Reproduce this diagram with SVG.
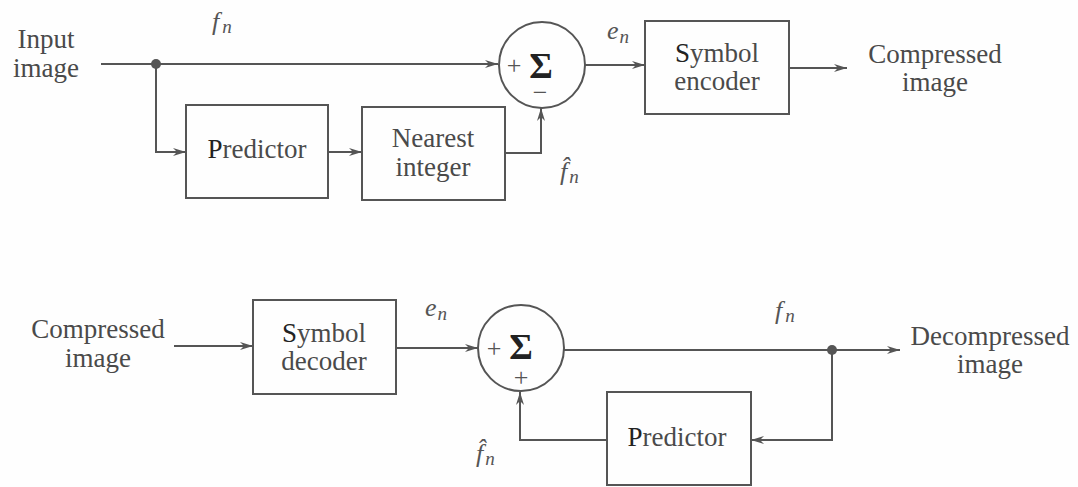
<svg xmlns="http://www.w3.org/2000/svg" width="1078" height="487" viewBox="0 0 1078 487">
<defs>
<marker id="arr" markerWidth="14" markerHeight="10" refX="13" refY="5" orient="auto" markerUnits="userSpaceOnUse">
<path d="M0,1 L13,5 L0,9 L4,5 z" fill="#555"/>
</marker>
<style>
.box{fill:none;stroke:#555;stroke-width:2}
.sum{fill:none;stroke:#555;stroke-width:2}
.wire{fill:none;stroke:#555;stroke-width:2;marker-end:url(#arr)}
.lbl{font-family:"Liberation Serif","Times New Roman",serif;font-size:27px;fill:#4a4a4a;text-anchor:middle}
.var{font-family:"Liberation Serif","Times New Roman",serif;font-size:26px;font-style:italic;fill:#555}
.sub{font-size:19px}
.sig{font-family:"Liberation Serif","Times New Roman",serif;font-size:36px;font-weight:bold;fill:#222;text-anchor:middle}
.sgn{font-family:"Liberation Serif","Times New Roman",serif;font-size:26px;fill:#555;text-anchor:middle}
.dk{fill:#222}
</style>
</defs>
<rect width="1078" height="487" fill="#fefefe"/>

<g id="connectors">
<path class="wire" d="M101,64 H498"/>
<path class="wire" d="M156,64 V152 H186"/>
<path class="wire" d="M328,152 H362"/>
<path class="wire" d="M505,153 H541 V108"/>
<path class="wire" d="M585,65 H645"/>
<path class="wire" d="M789,68 H847"/>
<circle cx="156" cy="64" r="5" fill="#555"/>

<path class="wire" d="M174,346 H253"/>
<path class="wire" d="M396,348 H478"/>
<path class="wire" d="M564,350 H900"/>
<path class="wire" d="M832,350 V440 H751"/>
<path class="wire" d="M607,440 H520 V392"/>
<circle cx="832" cy="350" r="5" fill="#555"/>
</g>

<g id="input-label">
<text class="lbl" x="46" y="48">Input</text>
<text class="lbl" x="46" y="77">image</text>
</g>
<g id="fn-top"><text class="var" x="212" y="30">f<tspan class="sub" dx="3" dy="3">n</tspan></text></g>

<g id="predictor-top">
<rect class="box" x="186" y="105" width="142" height="93"/>
<text class="lbl" x="257" y="158"><tspan class="dk">P</tspan>redictor</text>
</g>
<g id="nearest-integer">
<rect class="box" x="362" y="107" width="143" height="93"/>
<text class="lbl" x="433" y="147">Nearest</text>
<text class="lbl" x="433" y="176">integer</text>
</g>
<g id="sum-top">
<circle class="sum" cx="542" cy="65" r="43"/>
<text class="sgn" x="514" y="74">+</text>
<text class="sig" x="541" y="78">Σ</text>
<text class="sgn" x="540" y="101">−</text>
</g>
<g id="en-top"><text class="var" x="607" y="39">e<tspan class="sub" dx="1" dy="4">n</tspan></text></g>
<g id="fhat-top">
<text class="var" x="560" y="180">f̂<tspan class="sub" dx="2" dy="3">n</tspan></text>
</g>
<g id="symbol-encoder">
<rect class="box" x="645" y="21" width="144" height="93"/>
<text class="lbl" x="717" y="62"><tspan class="dk">S</tspan>ymbol</text>
<text class="lbl" x="717" y="90">encoder</text>
</g>
<g id="compressed-out">
<text class="lbl" x="935" y="63">Compressed</text>
<text class="lbl" x="935" y="91">image</text>
</g>

<g id="compressed-in">
<text class="lbl" x="98" y="338">Compressed</text>
<text class="lbl" x="98" y="367">image</text>
</g>
<g id="symbol-decoder">
<rect class="box" x="253" y="300" width="143" height="94"/>
<text class="lbl" x="324" y="342"><tspan class="dk">S</tspan>ymbol</text>
<text class="lbl" x="324" y="370">decoder</text>
</g>
<g id="en-bottom"><text class="var" x="425" y="316">e<tspan class="sub" dx="1" dy="4">n</tspan></text></g>
<g id="sum-bottom">
<circle class="sum" cx="521" cy="348" r="43"/>
<text class="sgn" x="494" y="357">+</text>
<text class="sig" x="521" y="359">Σ</text>
<text class="sgn" x="521" y="386">+</text>
</g>
<g id="fhat-bottom">
<text class="var" x="476" y="462">f̂<tspan class="sub" dx="2" dy="3">n</tspan></text>
</g>
<g id="fn-bottom"><text class="var" x="775" y="319">f<tspan class="sub" dx="3" dy="3">n</tspan></text></g>
<g id="decompressed">
<text class="lbl" x="990" y="345">Decompressed</text>
<text class="lbl" x="990" y="373">image</text>
</g>
<g id="predictor-bottom">
<rect class="box" x="607" y="392" width="144" height="93"/>
<text class="lbl" x="677" y="446"><tspan class="dk">P</tspan>redictor</text>
</g>
</svg>
